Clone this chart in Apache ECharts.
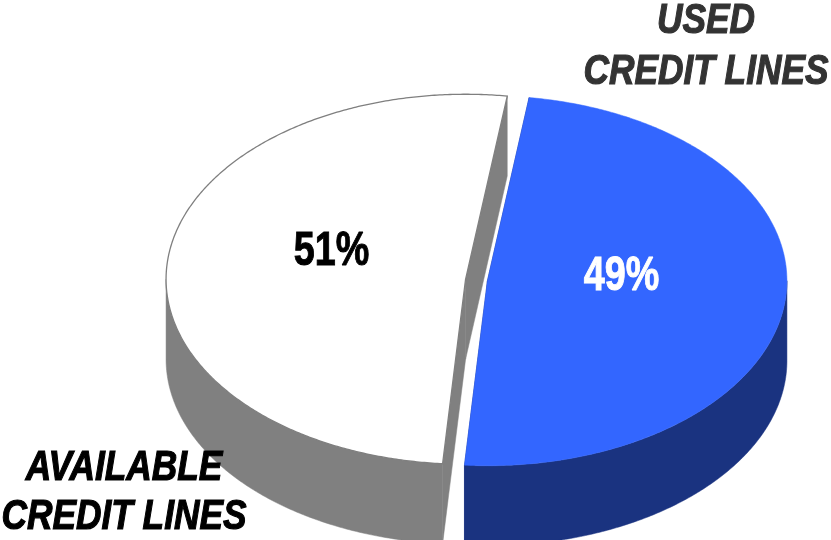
<!DOCTYPE html>
<html><head><meta charset="utf-8">
<script src="https://cdn.jsdelivr.net/npm/echarts@6/dist/echarts.min.js"></script>
<style>html,body{margin:0;padding:0;background:#fff}#c{width:831px;height:540px}</style>
</head><body><div id="c"></div>
<script>
// ---- data ----
const categories = ['USED\nCREDIT LINES', 'AVAILABLE\nCREDIT LINES'];
const values = [49, 51];

// ---- layout / style config ----
const GEO = { cx: 476.5, cy: 280, rx: 299.5, ry: 185, depth: 80, explode: 11, startDeg: 8 };
const TOP_COLORS = ['#3366ff', '#ffffff'];
const SIDE_COLORS = ['#1a3380', '#808080'];
const LABEL_COLORS = ['#ffffff', '#000000'];
const FONT_FAM = '"Liberation Sans", Arial, sans-serif';

const total = values.reduce((a, b) => a + b, 0);
function sliceAngles(i) {
  let s = 0;
  for (let k = 0; k < i; k++) s += values[k];
  const a0 = GEO.startDeg + 360 * s / total;
  const a1 = a0 + 360 * values[i] / total;
  return [a0, a1];
}
function offsetFor(i) {
  const [a0, a1] = sliceAngles(i);
  const m = (a0 + a1) / 2 * Math.PI / 180;
  return [GEO.explode * Math.sin(m), -GEO.explode * Math.cos(m) * GEO.ry / GEO.rx];
}
function pt(deg, ox, oy, dz) {
  const t = deg * Math.PI / 180;
  return [GEO.cx + ox + GEO.rx * Math.sin(t), GEO.cy + oy - GEO.ry * Math.cos(t) + (dz || 0)];
}
function arc(a, b, ox, oy, dz) {
  const pts = [];
  const n = Math.max(2, Math.ceil(Math.abs(b - a) / 0.5));
  for (let k = 0; k <= n; k++) pts.push(pt(a + (b - a) * k / n, ox, oy, dz));
  return pts;
}

function renderSides(params, api) {
  const i = params.dataIndex;
  const [a0, a1] = sliceAngles(i);
  const [ox, oy] = offsetFor(i);
  const D = GEO.depth;
  const c = [GEO.cx + ox, GEO.cy + oy];
  const children = [];
  [a0, a1].forEach(a => {
    const p = pt(a, ox, oy);
    children.push({ type: 'polygon', shape: { points: [c, p, [p[0], p[1] + D], [c[0], c[1] + D]] },
      style: { fill: SIDE_COLORS[i], stroke: SIDE_COLORS[i], lineWidth: 0.5 } });
  });
  [[90, 270], [450, 630]].forEach(([lo, hi]) => {
    const s = Math.max(a0, lo), e = Math.min(a1, hi);
    if (e > s) {
      const top = arc(s, e, ox, oy, 0);
      const bot = arc(e, s, ox, oy, D);
      children.push({ type: 'polygon', shape: { points: top.concat(bot) },
        style: { fill: SIDE_COLORS[i], stroke: SIDE_COLORS[i], lineWidth: 0.5 } });
    }
  });
  return { type: 'group', children };
}

function renderTops(params, api) {
  const i = params.dataIndex;
  const [a0, a1] = sliceAngles(i);
  const [ox, oy] = offsetFor(i);
  const c = [GEO.cx + ox, GEO.cy + oy];
  const pts = [c].concat(arc(a0, a1, ox, oy, 0));
  const t = (a0 + a1) / 2 * Math.PI / 180;
  const lx = c[0] + 0.45 * GEO.rx * Math.sin(t);
  const ly = c[1] - 0.6 * GEO.ry * Math.cos(t) - 16;
  const pct = Math.round(api.value(0) / total * 100) + '%';
  return { type: 'group', children: [
    { type: 'polygon', shape: { points: pts },
      style: i === 1 ? { fill: TOP_COLORS[i], stroke: '#7f7f7f', lineWidth: 1.3 }
                     : { fill: TOP_COLORS[i], stroke: TOP_COLORS[i], lineWidth: 0.5 } },
    { type: 'text', z2: 10, x: lx, y: ly, scaleX: 0.77, style: { text: pct, x: 0, y: 0, fill: LABEL_COLORS[i],
      stroke: LABEL_COLORS[i], lineWidth: 1,
      font: 'bold 49px ' + FONT_FAM, textAlign: 'center', textVerticalAlign: 'middle',
      align: 'center', verticalAlign: 'middle' } }
  ] };
}

const chart = echarts.init(document.getElementById('c'), null, { renderer: 'canvas' });
chart.setOption({
  backgroundColor: '#ffffff',
  animation: false,
  series: [
    { type: 'custom', coordinateSystem: 'none', renderItem: renderSides, data: values, z: 1, silent: true },
    { type: 'custom', coordinateSystem: 'none', renderItem: renderTops, data: values, z: 2, silent: true }
  ],
  graphic: [
    { type: 'text', x: 706, y: 47, scaleX: 0.82, z: 10, style: { text: categories[0], fill: '#333333',
      stroke: '#333333', lineWidth: 1.2,
      font: 'italic bold 43px ' + FONT_FAM, lineHeight: 51, align: 'center', verticalAlign: 'middle' } },
    { type: 'text', x: 124, y: 493, scaleX: 0.82, z: 10, style: { text: categories[1], fill: '#000000',
      stroke: '#000000', lineWidth: 1.2,
      font: 'italic bold 43px ' + FONT_FAM, lineHeight: 49, align: 'center', verticalAlign: 'middle' } }
  ]
});
</script></body></html>
